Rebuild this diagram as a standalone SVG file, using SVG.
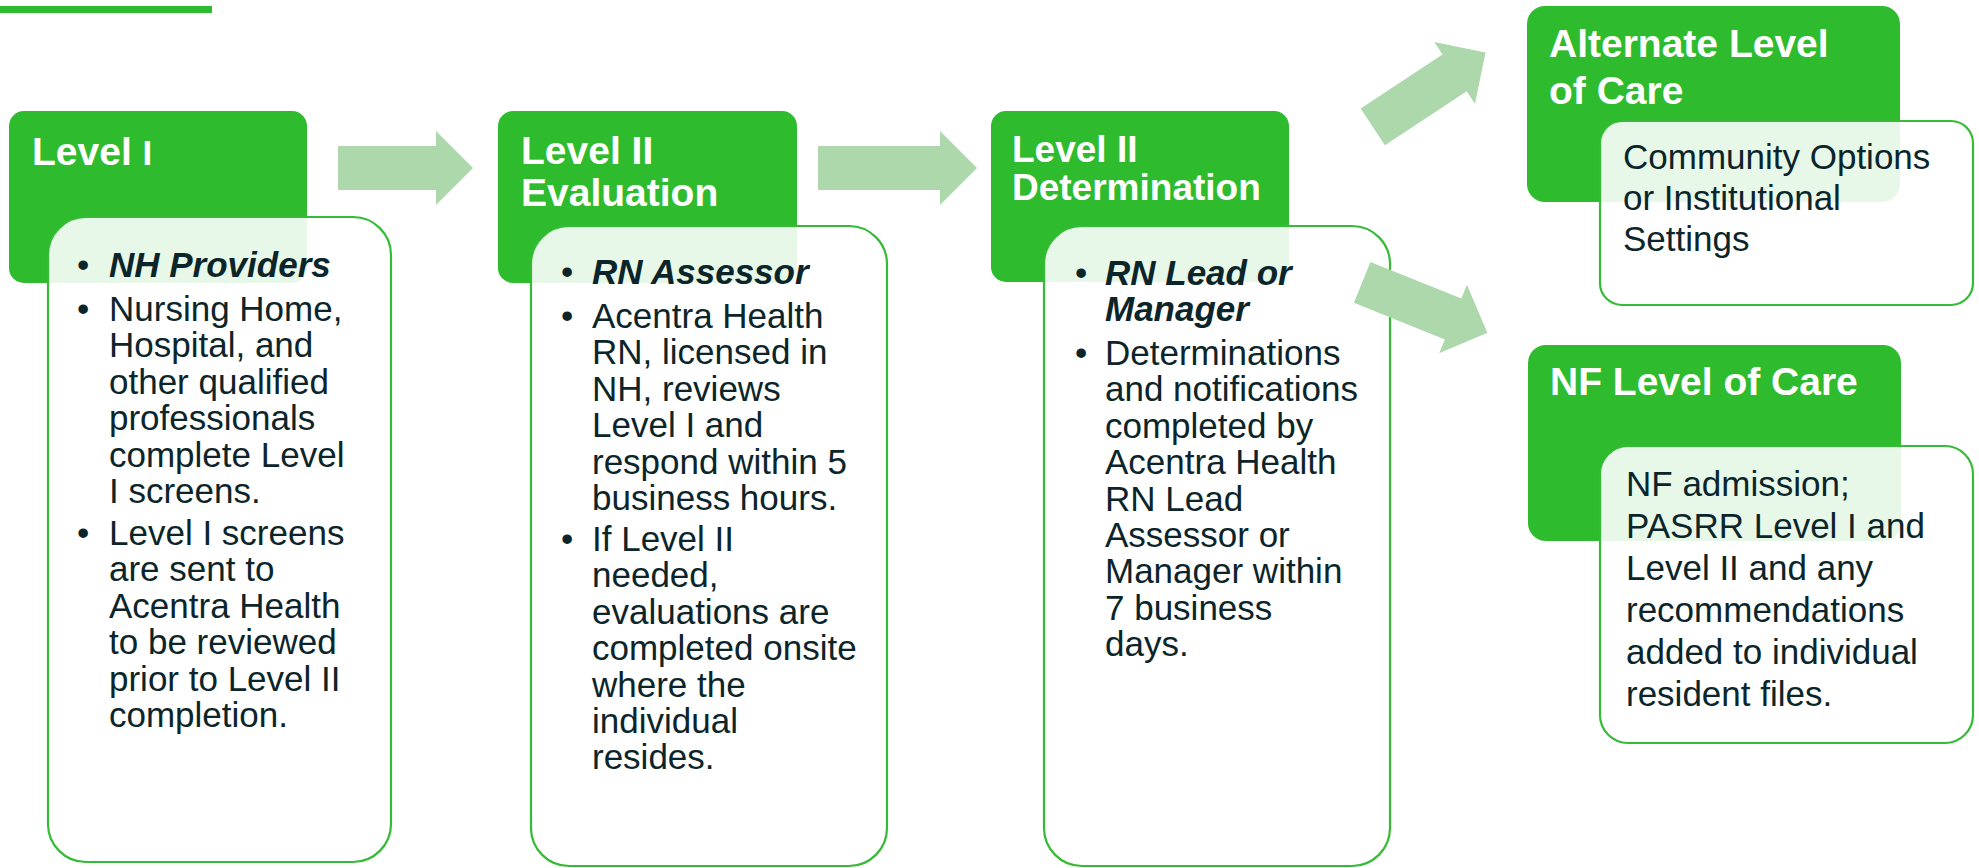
<svg xmlns="http://www.w3.org/2000/svg" width="1979" height="868" viewBox="0 0 1979 868">
<style>
  .g{fill:#2ebb2e}
  .w{fill:#ffffff;fill-opacity:0.89;stroke:#35bb35;stroke-width:2.2}
  .t{font-family:"Liberation Sans",Arial,sans-serif;font-weight:bold;fill:#ffffff}
  .b{font-family:"Liberation Sans",Arial,sans-serif;font-size:35px;fill:#0b252a}
  .bi{font-weight:bold;font-style:italic}
  .arr{fill:#acd8ab}
</style>
<defs>
  <path id="arrowShort" d="M0,-22 H98 V-37 L135,0 L98,37 V22 H0 Z"/>
</defs>
<rect x="0" y="6" width="212" height="7" class="g"/>

<g id="level1">
  <rect x="9" y="111" width="298" height="172" rx="15" class="g"/>
  <text x="32" y="165" class="t" font-size="39">Level <tspan font-size="35">I</tspan></text>
  <rect x="48" y="217" width="343" height="645" rx="38" class="w"/>
  <text class="b">
    <tspan x="77" y="277">•</tspan><tspan x="109" y="277" class="bi">NH Providers</tspan>
    <tspan x="77" y="321">•</tspan><tspan x="109" y="321">Nursing Home,</tspan>
    <tspan x="109" y="357.4">Hospital, and</tspan>
    <tspan x="109" y="393.8">other qualified</tspan>
    <tspan x="109" y="430.2">professionals</tspan>
    <tspan x="109" y="466.6">complete Level</tspan>
    <tspan x="109" y="503">I screens.</tspan>
    <tspan x="77" y="545">•</tspan><tspan x="109" y="545">Level I screens</tspan>
    <tspan x="109" y="581.4">are sent to</tspan>
    <tspan x="109" y="617.8">Acentra Health</tspan>
    <tspan x="109" y="654.2">to be reviewed</tspan>
    <tspan x="109" y="690.6">prior to Level II</tspan>
    <tspan x="109" y="727">completion.</tspan>
  </text>
</g>

<g id="level2eval">
  <rect x="498" y="111" width="299" height="172" rx="15" class="g"/>
  <text class="t" font-size="39"><tspan x="521" y="164">Level II</tspan><tspan x="521" y="206">Evaluation</tspan></text>
  <rect x="531" y="226" width="356" height="640" rx="38" class="w"/>
  <text class="b">
    <tspan x="561" y="284">•</tspan><tspan x="592" y="284" class="bi">RN Assessor</tspan>
    <tspan x="561" y="328">•</tspan><tspan x="592" y="328">Acentra Health</tspan>
    <tspan x="592" y="364.4">RN, licensed in</tspan>
    <tspan x="592" y="400.8">NH, reviews</tspan>
    <tspan x="592" y="437.2">Level I and</tspan>
    <tspan x="592" y="473.6">respond within 5</tspan>
    <tspan x="592" y="510">business hours.</tspan>
    <tspan x="561" y="551">•</tspan><tspan x="592" y="551">If Level II</tspan>
    <tspan x="592" y="587.4">needed,</tspan>
    <tspan x="592" y="623.8">evaluations are</tspan>
    <tspan x="592" y="660.2">completed onsite</tspan>
    <tspan x="592" y="696.6">where the</tspan>
    <tspan x="592" y="733">individual</tspan>
    <tspan x="592" y="769.4">resides.</tspan>
  </text>
</g>

<g id="level2det">
  <rect x="991" y="111" width="298" height="171" rx="15" class="g"/>
  <text class="t" font-size="37"><tspan x="1012" y="162">Level II</tspan><tspan x="1012" y="200">Determination</tspan></text>
  <rect x="1044" y="226" width="346" height="640" rx="38" class="w"/>
  <text class="b">
    <tspan x="1075" y="285">•</tspan><tspan x="1105" y="285" class="bi">RN Lead or</tspan>
    <tspan x="1105" y="321" class="bi">Manager</tspan>
    <tspan x="1075" y="365">•</tspan><tspan x="1105" y="365">Determinations</tspan>
    <tspan x="1105" y="401.4">and notifications</tspan>
    <tspan x="1105" y="437.8">completed by</tspan>
    <tspan x="1105" y="474.2">Acentra Health</tspan>
    <tspan x="1105" y="510.6">RN Lead</tspan>
    <tspan x="1105" y="547">Assessor or</tspan>
    <tspan x="1105" y="583.4">Manager within</tspan>
    <tspan x="1105" y="619.8">7 business</tspan>
    <tspan x="1105" y="656.2">days.</tspan>
  </text>
</g>

<g id="alternate">
  <rect x="1527" y="6" width="373" height="196" rx="18" class="g"/>
  <text class="t" font-size="39"><tspan x="1549" y="57">Alternate Level</tspan><tspan x="1549" y="104">of Care</tspan></text>
  <rect x="1600" y="121" width="373" height="184" rx="22" class="w"/>
  <text class="b">
    <tspan x="1623" y="169">Community Options</tspan>
    <tspan x="1623" y="210">or Institutional</tspan>
    <tspan x="1623" y="251">Settings</tspan>
  </text>
</g>

<g id="nf">
  <rect x="1528" y="345" width="373" height="196" rx="18" class="g"/>
  <text x="1550" y="395" class="t" font-size="39">NF Level of Care</text>
  <rect x="1600" y="446" width="373" height="297" rx="28" class="w"/>
  <text class="b">
    <tspan x="1626" y="496">NF admission;</tspan>
    <tspan x="1626" y="538">PASRR Level I and</tspan>
    <tspan x="1626" y="580">Level II and any</tspan>
    <tspan x="1626" y="622">recommendations</tspan>
    <tspan x="1626" y="664">added to individual</tspan>
    <tspan x="1626" y="706">resident files.</tspan>
  </text>
</g>

<g id="connectors">
  <path class="arr" d="M338,146 H436 V131 L473,168 L436,205 V190 H338 Z"/>
  <path class="arr" d="M818,146 H940 V131 L977,168 L940,205 V190 H818 Z"/>
  <use href="#arrowShort" class="arr" transform="translate(1372.8,126.9) rotate(-33.4)"/>
  <use href="#arrowShort" class="arr" transform="translate(1362.2,282.3) rotate(22)"/>
</g>
</svg>
